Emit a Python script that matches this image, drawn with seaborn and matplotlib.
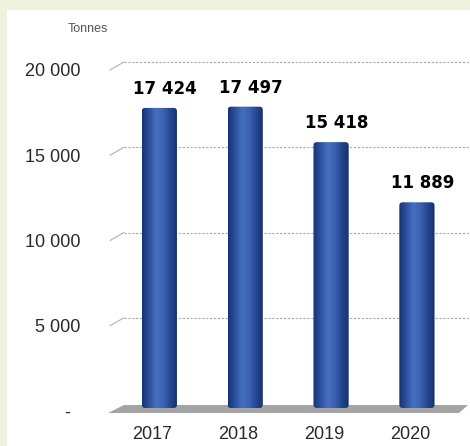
import numpy as np
import pandas as pd
import matplotlib
matplotlib.use("Agg")
import matplotlib.pyplot as plt
import matplotlib.transforms as mtransforms
from matplotlib.colors import LinearSegmentedColormap
from matplotlib.patches import Rectangle, Polygon, FancyBboxPatch
import seaborn as sns

# data
years = ["2017", "2018", "2019", "2020"]
tonnes = [17424, 17497, 15418, 11889]
value_labels = ["17 424", "17 497", "15 418", "11 889"]
ytick_values = [0, 5000, 10000, 15000, 20000]
ytick_labels = ["-  ", "5 000", "10 000", "15 000", "20 000"]

data = pd.DataFrame({"year": years, "tonnes": tonnes})

sns.set_style("white")
plt.rcParams["font.family"] = ["Liberation Sans", "DejaVu Sans"]

W, H = 470, 446
fig = plt.figure(figsize=(W / 100, H / 100), dpi=100)
fig.patch.set_facecolor("#eef2dc")
# white panel
fig.patches.append(Rectangle((7 / W, 0), 1, 1 - 10 / H, transform=fig.transFigure,
                             facecolor="white", edgecolor="none", zorder=-5))

# axes placed in pixels: value 0 at y=411, 20000 at y=70
ax_left, ax_right = 110, 465
y0_px, y20k_px = 411, 70
ax = fig.add_axes([ax_left / W, (H - y0_px) / H, (ax_right - ax_left) / W,
                   (y0_px - y20k_px) / H])
ax.set_facecolor("none")
ax.set_zorder(2)

sns.barplot(data=data, x="year", y="tonnes", color="#2c4f9c", width=0.41,
            ax=ax, zorder=3)

xlo, xhi = -0.575, 3.56
ax.set_xlim(xlo, xhi)
ax.set_ylim(0, 20000)
units_per_px = 20000 / (y0_px - y20k_px)
xunits_per_px = (xhi - xlo) / (ax_right - ax_left)

# back wall grid lines with small perspective slant
rise = 8 * units_per_px
run = 14 * xunits_per_px
for v in ytick_values[1:]:
    ax.plot([xlo, xlo + run], [v, v + rise], color="#b0b0b0", lw=0.8,
            clip_on=False, zorder=1)
    ax.plot([xlo + run, xhi + 0.05], [v + rise, v + rise], color="#a8a8a8",
            lw=0.8, ls=(0, (2, 1.5)), clip_on=False, zorder=1)

# floor
floor = Polygon([(xlo - 2 * xunits_per_px, -2 * units_per_px),
                 (xlo + run, rise - 2 * units_per_px),
                 (xhi + 3 * xunits_per_px, rise - 2 * units_per_px),
                 (xhi - 6 * xunits_per_px, -2 * units_per_px)],
                closed=True, facecolor="#a4a4a4", edgecolor="none",
                clip_on=False, zorder=2)

# gradient cylinders, lifted a little for the depth of the 3D look
lift = 6 * units_per_px
cmap = LinearSegmentedColormap.from_list(
    "bar", ["#173375", "#2c519f", "#4570bf", "#3b63b2", "#24468f", "#162f6c"])
grad = np.linspace(0, 1, 64).reshape(1, -1)
bars = [p for p in ax.patches if isinstance(p, Rectangle)]
ax.add_patch(floor)
for patch in bars:
    x, y = patch.get_x(), patch.get_y() + lift - 3 * units_per_px
    w, h = patch.get_width(), patch.get_height() + 3 * units_per_px
    patch.set_visible(False)
    clip = FancyBboxPatch((x, y), w, h,
                          boxstyle="round,pad=0,rounding_size=0.04",
                          mutation_aspect=units_per_px / xunits_per_px,
                          transform=ax.transData, facecolor="none",
                          edgecolor="none")
    ax.add_patch(clip)
    im = ax.imshow(grad, cmap=cmap, extent=(x, x + w, y, y + h),
                   aspect="auto", zorder=3, interpolation="bilinear")
    im.set_clip_path(clip)
ax.set_xlim(xlo, xhi)
ax.set_ylim(0, 20000)

# value labels
for i, (v, lab) in enumerate(zip(tonnes, value_labels)):
    ax.text(i + 6 * xunits_per_px, v + lift + 10 * units_per_px, lab,
            ha="center", va="bottom", fontsize=12, fontweight="bold",
            color="black", family=["DejaVu Sans"])

# ticks
ax.set_yticks(ytick_values)
ax.set_yticklabels(ytick_labels, fontsize=13, color="#2a2a2a")
ax.tick_params(axis="y", length=0, pad=21)
ax.set_xticks(range(len(years)))
ax.set_xticklabels(years, fontsize=13, color="#2a2a2a")
ax.tick_params(axis="x", length=0, pad=11)
offset = mtransforms.ScaledTranslation(-7 / 100, 0, fig.dpi_scale_trans)
for t in ax.get_xticklabels():
    t.set_transform(t.get_transform() + offset)

ax.set_xlabel("")
ax.set_ylabel("")
sns.despine(ax=ax, left=True, bottom=True)

fig.text(88 / W, 1 - 29 / H, "Tonnes", ha="center", va="center",
         fontsize=9, color="#555555")

fig.savefig("out.png", dpi=100, facecolor=fig.get_facecolor())
